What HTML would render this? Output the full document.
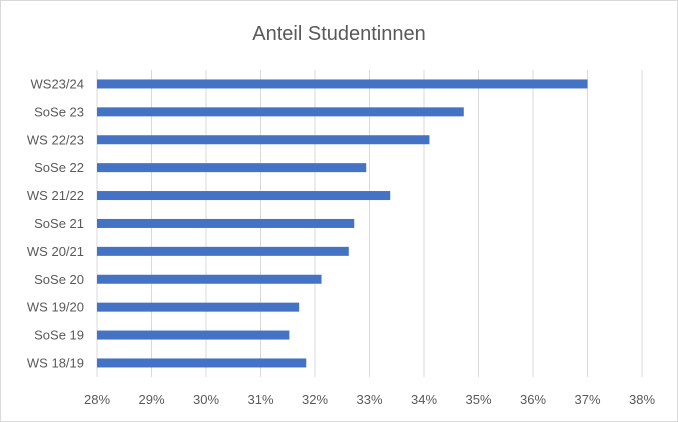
<!DOCTYPE html>
<html><head><meta charset="utf-8"><style>
body{margin:0;background:#fff;}
svg{display:block;font-family:"Liberation Sans",sans-serif;}
</style></head><body>
<svg id="c" width="678" height="422">
<rect x="0.5" y="0.5" width="677" height="421" fill="#fff" stroke="#d9d9d9"/>
<text x="339" y="40" text-anchor="middle" font-size="20" fill="#595959">Anteil Studentinnen</text>
<g id="grid"></g><g id="bars"></g><g id="ylab"></g><g id="xlab"></g>
</svg>
<script>
const categories=["WS23/24","SoSe 23","WS 22/23","SoSe 22","WS 21/22","SoSe 21","WS 20/21","SoSe 20","WS 19/20","SoSe 19","WS 18/19"];
const values=[37.0,34.73,34.1,32.94,33.38,32.72,32.62,32.12,31.71,31.53,31.84];
const ticks=[28,29,30,31,32,33,34,35,36,37,38];
const xMin=28,xMax=38,x0=97,x1=642,yTop=70,band=27.9;
const ns="http://www.w3.org/2000/svg";
const X=v=>x0+(v-xMin)/(xMax-xMin)*(x1-x0);
const Y=i=>yTop+band*i+band/2;
function mk(t,a,p){const e=document.createElementNS(ns,t);for(const k in a)e.setAttribute(k,a[k]);p.appendChild(e);return e;}
const g=document.getElementById('grid'),b=document.getElementById('bars'),yl=document.getElementById('ylab'),xl=document.getElementById('xlab');
ticks.forEach(t=>{
 const l=mk('line',{x1:X(t),x2:X(t),y1:yTop,y2:yTop+band*categories.length,stroke:'#d9d9d9','stroke-width':1},g);
 
 
 const tx=mk('text',{x:X(t),y:404,'text-anchor':'middle','font-size':13,fill:'#595959'},xl);
 tx.textContent=t+'%';
 
 
});
categories.forEach((c,i)=>{
 const r=mk('rect',{x:X(xMin),y:Y(i)-4.5,width:X(values[i])-X(xMin),height:9,fill:'#4472c4'},b);
 
 
 const tx=mk('text',{x:84,y:Y(i)+4.5,'text-anchor':'end','font-size':13,fill:'#595959'},yl);
 tx.textContent=c;
 
 
});
</script>
</body></html>
